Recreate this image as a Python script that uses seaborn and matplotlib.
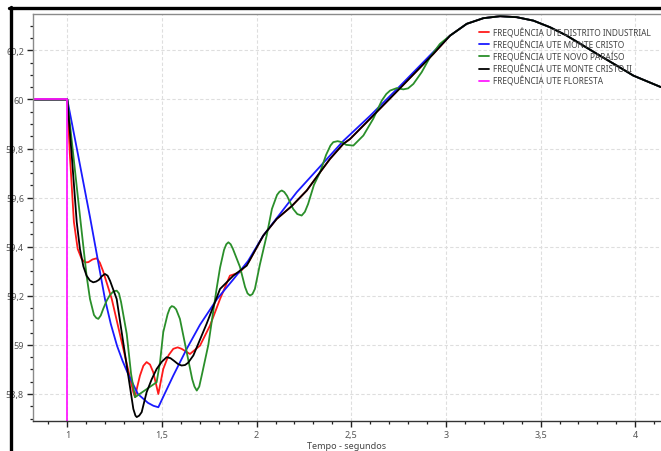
import matplotlib
matplotlib.use("Agg")
import matplotlib.pyplot as plt
from matplotlib.ticker import MultipleLocator, FuncFormatter
from matplotlib.lines import Line2D
import numpy as np
import pandas as pd
import seaborn as sns

# --- data: frequency response after the disturbance at t = 1 s ---
lead_t = [0.80, 1.00]
lead_f = [60.0, 60.0]

red_t = [1.014, 1.035, 1.055, 1.076, 1.094, 1.111, 1.133, 1.156, 1.172, 1.189, 1.235, 1.296, 1.349, 1.358,
         1.370, 1.384, 1.402, 1.419, 1.437, 1.454, 1.481, 1.507, 1.535, 1.560, 1.583, 1.604, 1.648, 1.701,
         1.754, 1.807, 1.859, 1.912, 1.960]
red_f = [59.771, 59.501, 59.391, 59.350, 59.336, 59.337, 59.348, 59.353, 59.335, 59.301, 59.187, 58.984,
         58.807, 58.787, 58.830, 58.875, 58.915, 58.930, 58.920, 58.889, 58.800, 58.902, 58.958, 58.984,
         58.990, 58.984, 58.963, 58.997, 59.079, 59.187, 59.282, 59.296, 59.340]

black_t = [1.025, 1.050, 1.067, 1.085, 1.102, 1.120, 1.137, 1.152, 1.167, 1.183, 1.199, 1.213, 1.226,
           1.261, 1.314, 1.349, 1.360, 1.367, 1.380, 1.393, 1.419, 1.446, 1.472, 1.500, 1.525, 1.545,
           1.564, 1.585, 1.604, 1.622, 1.638, 1.666, 1.736, 1.807, 1.877, 1.948]
black_f = [59.758, 59.500, 59.391, 59.320, 59.282, 59.262, 59.255, 59.258, 59.265, 59.280, 59.289,
           59.282, 59.261, 59.187, 58.916, 58.739, 58.712, 58.706, 58.712, 58.726, 58.807, 58.860,
           58.902, 58.932, 58.950, 58.946, 58.935, 58.922, 58.916, 58.918, 58.927, 58.957, 59.086,
           59.228, 59.282, 59.323]

# shared section of the two tightly coupled units
mid_t = [2.035, 2.106, 2.185, 2.265, 2.335, 2.388, 2.458, 2.494, 2.599, 2.758, 2.933]
mid_f = [59.445, 59.513, 59.565, 59.629, 59.703, 59.758, 59.819, 59.839, 59.921, 60.046, 60.185]

blue_t = [1.051, 1.120, 1.199, 1.230, 1.263, 1.292, 1.321, 1.373, 1.426, 1.455, 1.481, 1.520, 1.560,
          1.631, 1.701, 1.791, 1.875, 1.955, 2.035, 2.212, 2.458, 2.599, 2.758, 2.933]
blue_f = [59.798, 59.521, 59.187, 59.085, 58.996, 58.935, 58.882, 58.800, 58.764, 58.752, 58.746,
          58.810, 58.875, 58.984, 59.082, 59.187, 59.265, 59.342, 59.445, 59.622, 59.831, 59.933,
          60.055, 60.193]

green_t = [1.057, 1.102, 1.120, 1.141, 1.153, 1.164, 1.177, 1.190, 1.208, 1.226, 1.244, 1.261, 1.273,
           1.284, 1.314, 1.337, 1.358, 1.472, 1.490, 1.507, 1.530, 1.542, 1.552, 1.563, 1.575, 1.595,
           1.631, 1.660, 1.672, 1.684, 1.697, 1.712, 1.745, 1.767, 1.789, 1.807, 1.828, 1.840, 1.851,
           1.863, 1.875, 1.912, 1.939, 1.952, 1.965, 1.978, 1.991, 2.017, 2.053, 2.081, 2.108, 2.121,
           2.133, 2.146, 2.161, 2.193, 2.215, 2.238, 2.255, 2.272, 2.303, 2.335, 2.367, 2.390, 2.405,
           2.428, 2.450, 2.473, 2.511, 2.564, 2.616, 2.661, 2.685, 2.705, 2.740, 2.775, 2.800, 2.828,
           2.872, 2.916, 2.968]
green_f = [59.595, 59.282, 59.187, 59.122, 59.110, 59.106, 59.120, 59.147, 59.180, 59.204, 59.218,
           59.221, 59.210, 59.175, 59.045, 58.882, 58.787, 58.848, 58.930, 59.052, 59.125, 59.150,
           59.158, 59.155, 59.145, 59.106, 58.970, 58.860, 58.830, 58.814, 58.830, 58.882, 59.000,
           59.116, 59.230, 59.315, 59.387, 59.410, 59.418, 59.410, 59.391, 59.318, 59.236, 59.210,
           59.201, 59.207, 59.228, 59.326, 59.445, 59.554, 59.611, 59.624, 59.629, 59.623, 59.607,
           59.554, 59.533, 59.527, 59.542, 59.574, 59.652, 59.703, 59.774, 59.812, 59.826, 59.830,
           59.826, 59.815, 59.812, 59.853, 59.921, 59.995, 60.022, 60.036, 60.046, 60.041, 60.045,
           60.063, 60.111, 60.172, 60.226]

# common recovery once the units are back in phase
tail_t = [3.022, 3.110, 3.198, 3.286, 3.374, 3.462, 3.550, 3.638, 3.726, 3.814, 3.902, 3.990, 4.136]
tail_f = [60.260, 60.308, 60.331, 60.339, 60.335, 60.321, 60.294, 60.260, 60.219, 60.178, 60.138,
          60.097, 60.050]

floresta_t = [0.80, 1.00, 1.00]
floresta_f = [60.0, 60.0, 58.0]

labels = ["FREQUÊNCIA UTE DISTRITO INDUSTRIAL", "FREQUÊNCIA UTE MONTE CRISTO",
          "FREQUÊNCIA UTE NOVO PARAÍSO", "FREQUÊNCIA UTE MONTE CRISTO II",
          "FREQUÊNCIA UTE FLORESTA"]
colors = ["#ff1a1a", "#1a1aff", "#2a8f2a", "#000000", "#ff1aff"]

series = [
    (lead_t + red_t + mid_t + tail_t, lead_f + red_f + mid_f + tail_f),
    (lead_t + blue_t + tail_t, lead_f + blue_f + tail_f),
    (lead_t + green_t + tail_t, lead_f + green_f + tail_f),
    (lead_t + black_t + mid_t + tail_t, lead_f + black_f + mid_f + tail_f),
    (floresta_t, floresta_f),
]

sns.set_style("white")
plt.rcParams["font.family"] = ["Noto Sans", "DejaVu Sans"]

W, H = 661, 452
fig = plt.figure(figsize=(W / 100, H / 100), dpi=100)
ax = fig.add_axes([33 / W, 30 / H, 628 / W, 407 / H])

for (t, f), lab, col in zip(series, labels, colors):
    df = pd.DataFrame({"t": t, "f": f})
    sns.lineplot(data=df, x="t", y="f", ax=ax, color=col, label=lab,
                 estimator=None, sort=False, linewidth=1.3)

ax.set_xlim(0.819, 4.136)
ax.set_ylim(58.69, 60.348)

ax.xaxis.set_major_locator(MultipleLocator(0.5))
ax.xaxis.set_minor_locator(MultipleLocator(0.1))
ax.yaxis.set_major_locator(MultipleLocator(0.2))
ax.yaxis.set_minor_locator(MultipleLocator(0.05))

def comma(v, pos):
    s = f"{v:.1f}".rstrip("0").rstrip(".")
    return s.replace(".", ",")

ax.xaxis.set_major_formatter(FuncFormatter(comma))
ax.yaxis.set_major_formatter(FuncFormatter(comma))

ax.tick_params(axis="both", which="major", direction="out", length=4, width=1,
               color="#222222", labelsize=6.5, labelcolor="#555555", pad=2.5,
               bottom=True, left=True)
ax.tick_params(axis="both", which="minor", direction="out", length=2.5, width=0.9,
               color="#222222", bottom=True, left=True)

ax.grid(True, which="major", color="#dedede", linestyle=(0, (3, 2)), linewidth=0.8)
ax.set_axisbelow(True)

for side in ("left", "top"):
    ax.spines[side].set_color("#8a8a8a")
    ax.spines[side].set_linewidth(1.0)
ax.spines["bottom"].set_color("#333333")
ax.spines["bottom"].set_linewidth(1.0)
ax.spines["right"].set_visible(False)

ax.set_xlabel("Tempo - segundos", fontsize=6.5, color="#444444", labelpad=1.5)
ax.set_ylabel("")

ax.legend(loc="upper left", bbox_to_anchor=((479 - 33) / 628, (422 - 28) / 407),
          frameon=False, fontsize=6.0, handlelength=1.25, handletextpad=0.45,
          labelspacing=0.26, borderpad=0, borderaxespad=0, labelcolor="#444444")

# window frame of the plot panel
fig.add_artist(Line2D([10.5 / W, 10.5 / W], [0, 1 - 7.5 / H], color="black",
                      linewidth=2.4, transform=fig.transFigure, zorder=10))
fig.add_artist(Line2D([9.3 / W, 1], [1 - 8.8 / H, 1 - 8.8 / H], color="black",
                      linewidth=2.4, transform=fig.transFigure, zorder=10))

fig.savefig("out.png", dpi=100)
